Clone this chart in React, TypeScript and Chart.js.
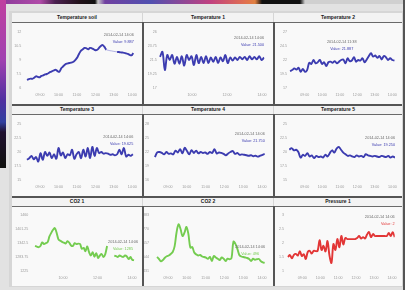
import React, { useEffect, useRef } from "react";
import { Chart, registerables } from "chart.js";

Chart.register(...registerables);

const FONT = "'Liberation Sans', Arial, sans-serif";
const BLUE = "#3c3cb0";
const GREEN = "#74cc50";
const RED = "#e23636";

// ---- tick labels ----
const hourTicks = [9, 10, 11, 12, 13, 14];
const twoHourTicks = [10, 12, 14];
const soilTicks = [6, 7.5, 9, 10.5, 12];
const temp1Ticks = [17, 19.25, 21.5, 23.75, 26];
const temp2Ticks = [17, 19.5, 22, 24.5, 27];
const temp3Ticks = [15, 17.5, 20, 22.5, 25];
const temp4Ticks = [16, 19, 22, 25, 28];
const temp5Ticks = [15, 17.5, 20, 22.5, 25];
const co21Ticks = [1225, 1283.75, 1342.5, 1401.25, 1460];
const co22Ticks = [431, 544, 657, 770, 883];
const pressureTicks = [1, 1.5, 2, 2.5, 3];

// ---- series (hours of day, first/last sample) ----
const soilSpan = [8.3, 14.05];
const temp1Span = [8.17, 14.12];
const temp2Span = [8.16, 14.12];
const temp3Span = [8.3, 14.03];
const temp4Span = [8.31, 14.15];
const temp5Span = [8.12, 14.15];
const co21Span = [8.38, 14.12];
const co22Span = [8.42, 14.15];
const pressureSpan = [8.21, 14.15];

const soilValues = [
  6.86, 6.95, 7.0, 6.98, 7.1, 7.25, 7.2, 7.15, 7.3, 7.35, 7.45, 7.5, 7.6, 7.72, 7.8,
  7.9, 7.95, 7.8, 7.75, 8.1, 8.3, 8.5, 8.6, 8.65, 8.7, 8.75, 8.85, 9.05, 9.3, 9.7,
  10.0, 10.15, 10.3, 10.25, 10.15, 10.3, 10.25, 10.15, 10.05, 10.1, 10.3, 10.5, 10.6,
  10.4, 10.1, 10.05, 10.0, 9.97, 9.93, 9.9, 9.87, 9.85, 9.82, 9.8, 9.77, 9.7, 9.65,
  9.55, 9.5, 9.75,
];
const temp1Values = [
  22.0, 22.8, 19.9, 22.3, 21.5, 22.3, 20.9, 22.0, 20.9, 22.1, 20.6, 22.3, 21.5, 22.1,
  20.7, 22.3, 21.0, 22.0, 21.0, 22.1, 21.0, 21.9, 21.2, 22.0, 21.0, 21.9, 21.3, 22.3,
  21.0, 21.9, 21.4, 21.9, 21.5, 22.0, 21.6, 22.0, 21.5, 22.1, 21.6, 22.0, 21.6, 22.1,
  21.5, 21.9,
];
const temp2Values = [
  20.0, 20.2, 20.5, 20.3, 20.6, 19.9, 20.4, 19.9, 20.2, 21.5, 21.3, 22.0, 21.4, 21.6,
  22.0, 21.3, 21.6, 20.9, 21.6, 21.7, 21.5, 21.8, 21.4, 21.7, 22.0, 22.1, 21.4, 22.3,
  21.8, 21.9, 22.5, 21.7, 22.0, 21.9, 22.3, 21.6, 22.1, 22.7, 23.2, 22.6, 22.8, 22.4,
  22.7, 22.1, 22.7, 22.5, 22.0, 22.3, 22.0, 21.9,
];
const temp3Values = [
  18.6, 18.9, 19.3, 18.7, 19.1, 18.3, 19.8, 18.6, 20.0, 19.3, 19.9, 18.9, 19.6, 18.8,
  20.7, 19.4, 19.9, 18.9, 19.6, 19.4, 20.4, 18.8, 19.6, 20.0, 18.9, 20.4, 19.2, 20.7,
  18.9, 20.9, 19.3, 20.7, 19.8, 20.0, 19.7, 19.8, 19.7, 19.5, 19.6, 19.4, 19.6, 20.4,
  19.6, 20.7, 19.2, 19.5, 19.3, 19.6,
];
const temp4Values = [
  20.9, 21.9, 22.0, 21.8, 21.5, 22.0, 21.6, 21.7, 21.5, 22.3, 21.9, 22.6, 21.7, 22.9,
  22.2, 21.5, 22.4, 21.8, 22.3, 21.7, 22.0, 21.8, 21.9, 21.6, 22.0, 21.8, 22.6, 21.7,
  21.9, 21.8, 21.6, 21.3, 21.7, 22.0, 22.2, 21.6, 21.8, 21.4, 21.5, 21.4, 21.3, 21.2,
  21.3, 21.1, 21.2, 21.0, 21.2, 21.4, 21.6,
];
const temp5Values = [
  20.4, 20.7, 20.3, 20.4, 20.0, 19.0, 19.5, 19.3, 19.8, 19.2, 19.4, 18.9, 19.3, 19.1,
  19.2, 19.0, 19.5, 19.2, 19.8, 20.3, 19.9, 20.6, 20.9, 20.4, 19.9, 19.6, 19.3, 19.4,
  19.2, 19.1, 19.4, 19.2, 19.3, 19.1, 19.6, 19.4, 19.3, 19.2, 19.3, 19.2, 19.1, 19.3,
  19.2, 19.1, 19.3, 19.0, 19.2, 19.0,
];
const co21Values = [
  1330, 1327, 1325, 1330, 1345, 1338, 1342, 1346, 1370, 1385, 1398, 1405, 1385, 1358,
  1352, 1347, 1344, 1340, 1350, 1344, 1332, 1330, 1342, 1338, 1340, 1338, 1318, 1322,
  1308, 1328, 1304, 1290, 1304, 1285, 1300, 1280, 1290, 1296, 1284, 1296, 1330, null,
  null, null, 1290, 1287, 1284, 1290, 1286, 1284, 1290, 1286, 1275, 1284, 1272, 1270,
];
const co22Values = [
  544, 528, 510, 520, 538, 550, 556, 568, 584, 632, 746, 808, 770, 713, 740, 786, 730,
  620, 624, 580, 565, 556, 560, 548, 544, 538, 530, 545, 512, 552, 540, 530, 520, 540,
  530, 512, 530, 526, 535, 668, 650, 610, 560, 548, 544, 540, 536, 528, 512, 530, 522,
  526, 528, 510, 500, 496,
];
const pressureValues = [
  1.5, 1.57, 1.45, 1.58, 1.61, 1.55, 1.71, 1.54, 1.6, 1.43, 1.68, 1.72, 1.62, 1.72,
  1.71, 1.72, 2.1, 1.75, 1.9, 1.7, 2.07, 1.55, 1.29, 1.96, 1.75, 2.14, 1.85, 2.25,
  1.95, 2.18, 2.14, 2.14, 2.14, 2.14, 2.14, 2.18, 2.25, 2.16, 2.21, 2.16, 2.3, 2.39,
  2.21, 2.32, 2.25, 2.25, 2.25, 2.25, 2.25, 2.25, 2.25, 2.36, 2.25, 2.39, 2.21,
];

const titles = [
  "Temperature soil", "Temperature 1", "Temperature 2",
  "Temperature 3", "Temperature 4", "Temperature 5",
  "CO2 1", "CO2 2", "Pressure 1",
];
const dates = [
  "2014-02-14 14:06", "2014-02-14 14:06", "2014-02-14 11:38",
  "2014-02-14 14:06", "2014-02-14 14:06", "2014-02-14 14:06",
  "2014-02-14 14:06", "2014-02-14 14:06", "2014-02-14 14:06",
];
const valueTexts = [
  "Value: 9.887", "Value: 21.500", "Value: 21.887",
  "Value: 19.625", "Value: 21.750", "Value: 19.250",
  "Value: 1285", "Value: 496", "Value: 2",
];

// ---- layout ----
const COLS = [
  { x: 12, w: 130 },
  { x: 143, w: 130 },
  { x: 274, w: 128 },
];
const ROWS = [
  { hy: 13, cy: 23, ch: 81, padTop: 9, xH: 16 },
  { hy: 105, cy: 115, ch: 81, padTop: 9, xH: 16 },
  { hy: 197, cy: 207, ch: 79, padTop: 8, xH: 15 },
];

type Spec = {
  values: (number | null)[];
  span: number[];
  yTicks: number[];
  xTicks: number[];
  color: string;
  at: [number, number];
  align: "left" | "right" | "center";
  yW: number;
  padR: number;
  fade?: [number, number];
};

const specs: Spec[] = [
  { values: soilValues, span: soilSpan, yTicks: soilTicks, xTicks: hourTicks, color: BLUE, at: [14.08, 11.68], align: "right", yW: 11.3, padR: 6.2, fade: [44, 50] },
  { values: temp1Values, span: temp1Span, yTicks: temp1Ticks, xTicks: twoHourTicks, color: BLUE, at: [14.12, 25.0], align: "right", yW: 15.8, padR: 8.4 },
  { values: temp2Values, span: temp2Span, yTicks: temp2Ticks, xTicks: hourTicks, color: BLUE, at: [11.11, 25.2], align: "center", yW: 15, padR: 6.4 },
  { values: temp3Values, span: temp3Span, yTicks: temp3Ticks, xTicks: hourTicks, color: BLUE, at: [14.05, 22.7], align: "right", yW: 11.3, padR: 6.2 },
  { values: temp4Values, span: temp4Span, yTicks: temp4Ticks, xTicks: hourTicks, color: BLUE, at: [14.15, 25.9], align: "right", yW: 8, padR: 8.2 },
  { values: temp5Values, span: temp5Span, yTicks: temp5Ticks, xTicks: hourTicks, color: BLUE, at: [14.15, 22.5], align: "right", yW: 15, padR: 5.3 },
  { values: co21Values, span: co21Span, yTicks: co21Ticks, xTicks: twoHourTicks, color: GREEN, at: [13.48, 1346], align: "center", yW: 18.2, padR: 7.4 },
  { values: co22Values, span: co22Span, yTicks: co22Ticks, xTicks: hourTicks, color: GREEN, at: [13.37, 625], align: "center", yW: 8, padR: 8.2 },
  { values: pressureValues, span: pressureSpan, yTicks: pressureTicks, xTicks: hourTicks, color: RED, at: [14.15, 2.93], align: "right", yW: 12, padR: 7.3 },
];

const annotPlugin = {
  id: "annot",
  afterDatasetsDraw(chart: any, _args: any, opts: any) {
    const { ctx, scales } = chart;
    const px = scales.x.getPixelForValue(opts.t);
    const py = scales.y.getPixelForValue(opts.v);
    ctx.save();
    ctx.font = `${opts.size}px ${FONT}`;
    ctx.textAlign = opts.align;
    ctx.textBaseline = "middle";
    ctx.fillStyle = "#6a6a6a";
    ctx.fillText(opts.date, px, py);
    ctx.fillStyle = opts.color;
    ctx.fillText(opts.value, px, py + opts.gap);
    ctx.restore();
  },
};

const pad2 = (h: number) => (h < 10 ? "0" + h : "" + h);

function buildConfig(i: number): any {
  const s = specs[i];
  const row = ROWS[Math.floor(i / 3)];
  const n = s.values.length;
  const data = s.values.map((v, k) => ({
    x: s.span[0] + ((s.span[1] - s.span[0]) * k) / (n - 1),
    y: v,
  }));
  const tickFont = { family: FONT, size: 3.6 };
  const fade = s.fade;
  return {
    type: "line",
    data: {
      datasets: [
        {
          data,
          borderColor: s.color,
          borderWidth: 1.9,
          pointRadius: 0,
          tension: 0.35,
          spanGaps: false,
          fill: false,
          segment: fade
            ? {
                borderColor: (c: any) =>
                  c.p0DataIndex >= fade[0] && c.p1DataIndex <= fade[1] ? "rgba(90,90,200,0.45)" : undefined,
                borderWidth: (c: any) =>
                  c.p0DataIndex >= fade[0] && c.p1DataIndex <= fade[1] ? 1 : undefined,
              }
            : undefined,
        },
      ],
    },
    options: {
      animation: false,
      responsive: false,
      maintainAspectRatio: false,
      devicePixelRatio: 1,
      events: [],
      layout: { padding: { top: row.padTop, right: s.padR, left: 0, bottom: 0 } },
      plugins: {
        legend: { display: false },
        tooltip: { enabled: false },
        title: { display: false },
        annot: {
          t: s.at[0],
          v: s.at[1],
          align: s.align,
          date: dates[i],
          value: valueTexts[i],
          color: s.color,
          size: 3.8,
          gap: 7,
        },
      },
      scales: {
        x: {
          type: "linear",
          min: 8.1,
          max: 14.15,
          grid: { display: false, drawTicks: false },
          border: { display: false },
          afterBuildTicks: (sc: any) => {
            sc.ticks = s.xTicks.map((v) => ({ value: v }));
          },
          afterFit: (sc: any) => {
            sc.height = row.xH;
          },
          ticks: {
            autoSkip: false,
            maxRotation: 0,
            padding: 5,
            color: "#9a9a9a",
            font: tickFont,
            callback: (v: number) => pad2(v) + ":00",
          },
        },
        y: {
          type: "linear",
          min: s.yTicks[0],
          max: s.yTicks[s.yTicks.length - 1],
          grid: { display: false, drawTicks: false },
          border: { display: false },
          afterBuildTicks: (sc: any) => {
            sc.ticks = s.yTicks.map((v) => ({ value: v }));
          },
          afterFit: (sc: any) => {
            sc.width = s.yW;
          },
          ticks: {
            padding: 2,
            color: "#9a9a9a",
            font: tickFont,
            callback: (v: number) => String(v),
          },
        },
      },
    },
    plugins: [annotPlugin],
  };
}

function Panel({ index }: { index: number }) {
  const ref = useRef<HTMLCanvasElement>(null);
  const col = COLS[index % 3];
  const row = ROWS[Math.floor(index / 3)];
  useEffect(() => {
    const chart = new Chart(ref.current as HTMLCanvasElement, buildConfig(index));
    return () => chart.destroy();
  }, [index]);
  return (
    <>
      <div
        style={{
          position: "absolute",
          left: col.x,
          top: row.hy,
          width: col.w,
          height: row.cy - row.hy - 1,
          background: "#f3f3f3",
          borderBottom: "1px solid #6a6a6a",
          font: `bold 5px ${FONT}`,
          lineHeight: `${row.cy - row.hy - 1}px`,
          textAlign: "center",
          color: "#1a1a1a",
        }}
      >
        {titles[index]}
      </div>
      <canvas
        ref={ref}
        width={col.w}
        height={row.ch}
        style={{
          position: "absolute",
          left: col.x,
          top: row.cy,
          width: col.w,
          height: row.ch,
          background: "#f9f9f9",
        }}
      />
    </>
  );
}

export default function App() {
  return (
    <div
      style={{
        position: "absolute",
        left: 0,
        top: 0,
        width: 405,
        height: 290,
        overflow: "hidden",
        background: "#e2e2e2",
      }}
    >
      <div
        style={{
          position: "absolute",
          left: 9,
          top: 11,
          width: 394,
          height: 276,
          background: "#d6d6d6",
        }}
      />
      <div
        style={{
          position: "absolute",
          left: 0,
          top: 0,
          width: 405,
          height: 4,
          background:
            "linear-gradient(90deg, #8a3a9a 0px, #b04aa8 40px, #4a2050 55px, #201018 80px, #101010 95px, #c8c8c8 98px, #7040a0 105px, #5050b0 150px, #c04080 210px, #e07050 245px, #e08040 255px, #101010 262px, #101010 300px, #d0d0d0 305px)",
        }}
      />
      <div
        style={{
          position: "absolute",
          left: 0,
          top: 0,
          width: 6,
          height: 168,
          background:
            "linear-gradient(180deg, #c040a0 0px, #a040b0 60px, #5030a0 100px, #3040a0 122px, #201030 132px, #101010 165px)",
        }}
      />
      <div style={{ position: "absolute", left: 403, top: 0, width: 2, height: 290, background: "#555" }} />
      {titles.map((_, i) => (
        <Panel key={i} index={i} />
      ))}
      {ROWS.map((r, k) => (
        <React.Fragment key={k}>
          <div style={{ position: "absolute", left: 142, top: r.cy - 1, width: 1.5, height: r.ch + 1, background: "#555" }} />
          <div style={{ position: "absolute", left: 273, top: r.cy - 1, width: 1.5, height: r.ch + 1, background: "#555" }} />
        </React.Fragment>
      ))}
      <div style={{ position: "absolute", left: 12, top: 104, width: 390, height: 1.5, background: "#555" }} />
      <div style={{ position: "absolute", left: 12, top: 196, width: 390, height: 1.5, background: "#555" }} />
    </div>
  );
}
